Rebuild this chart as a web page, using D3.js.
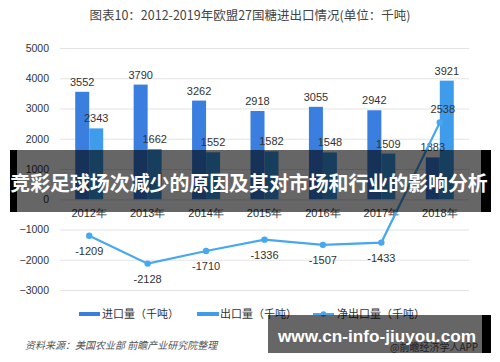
<!DOCTYPE html>
<html><head><meta charset="utf-8">
<script src="https://cdn.jsdelivr.net/npm/d3@7/dist/d3.min.js"></script>
<style>
body{margin:0;background:#fff;}
svg{display:block;font-family:"Noto Sans CJK SC","Noto Sans",sans-serif;}
</style></head>
<body>
<svg id="c" width="500" height="362"></svg>
<script>
const years = ["2012年","2013年","2014年","2015年","2016年","2017年","2018年"];
const imports = [3552,3790,3262,2918,3055,2942,1383];
const exports_ = [2343,1662,1552,1582,1548,1509,3921];
const netExports = [-1209,-2128,-1710,-1336,-1507,-1433,2538];
const yTicks = [5000,4000,3000,2000,1000,0,-1000,-2000,-3000];
const title = "图表10：2012-2019年欧盟27国糖进出口情况(单位：千吨)";
const legendLabels = ["进口量（千吨）","出口量（千吨）","净出口量（千吨）"];
const source = "资料来源：美国农业部 前瞻产业研究院整理";
const overlayText = "竞彩足球场次减少的原因及其对市场和行业的影响分析";
const siteText = "www.cn-info-jiuyou.com";
const appText = "@前瞻经济学人APP";

const cImp = "#3a7edf", cExp = "#3e9ceb", cNet = "#47a7f1";
const svg = d3.select("#c");
const x = d3.scaleBand().domain(years).range([60,469]).padding(0);
const y = d3.scaleLinear().domain([-3000,5000]).range([290,48]);
const bw = 14;

// title
svg.append("text").attr("x",250).attr("y",20).attr("text-anchor","middle")
  .attr("font-size",12.5).attr("fill","#444").text(title);

// grid
const yAxis = d3.axisLeft(y).tickValues(yTicks).tickSize(-409).tickFormat(d3.format("d")).tickPadding(10);
const gy = svg.append("g").attr("transform","translate(60,0)").call(yAxis);
gy.select(".domain").remove();
gy.selectAll(".tick line").attr("stroke","#e3e3e3");
gy.selectAll(".tick text").attr("font-size",10.5).attr("fill","#333").attr("x",-11).attr("font-family","'Liberation Sans',sans-serif");

// x axis labels
const xAxis = d3.axisBottom(x).tickSize(0).tickPadding(10);
const gx = svg.append("g").attr("transform",`translate(0,${y(0)})`).call(xAxis);
gx.select(".domain").remove();
gx.selectAll(".tick text").attr("font-size",11).attr("fill","#333");

// bars
const cx = d => x(d) + x.bandwidth()/2;
svg.append("g").selectAll("rect").data(years).join("rect")
  .attr("x",d=>cx(d)-bw).attr("width",bw)
  .attr("y",(d,i)=>y(imports[i])).attr("height",(d,i)=>y(0)-y(imports[i]))
  .attr("fill",cImp);
svg.append("g").selectAll("rect").data(years).join("rect")
  .attr("x",d=>cx(d)).attr("width",bw)
  .attr("y",(d,i)=>y(exports_[i])).attr("height",(d,i)=>y(0)-y(exports_[i]))
  .attr("fill",cExp);
// bar labels
const lblFont = "'Liberation Sans',sans-serif";
svg.append("g").selectAll("text").data(years).join("text")
  .attr("x",d=>cx(d)-bw/2).attr("y",(d,i)=>y(imports[i])-6)
  .attr("text-anchor","middle").attr("font-size",11).attr("fill","#333").attr("font-family",lblFont)
  .text((d,i)=>imports[i]);
svg.append("g").selectAll("text").data(years).join("text")
  .attr("x",d=>cx(d)+bw/2).attr("y",(d,i)=>y(exports_[i])-6)
  .attr("text-anchor","middle").attr("font-size",11).attr("fill","#333").attr("font-family",lblFont)
  .text((d,i)=>exports_[i]);

// line
const line = d3.line().x(d=>cx(d.k)).y(d=>y(d.v));
const pts = years.map((k,i)=>({k,v:netExports[i]}));
svg.append("path").datum(pts).attr("d",line).attr("fill","none").attr("stroke",cNet).attr("stroke-width",2.2);
svg.append("g").selectAll("circle").data(pts).join("circle")
  .attr("cx",d=>cx(d.k)).attr("cy",d=>y(d.v)).attr("r",3.2).attr("fill",cNet);
svg.append("g").selectAll("text").data(pts).join("text")
  .attr("x",d=>cx(d.k)+(d.v>0?3:0)).attr("y",d=>d.v>0?y(d.v)-9:y(d.v)+19)
  .attr("text-anchor","middle").attr("font-size",11).attr("fill","#333").attr("font-family",lblFont)
  .text(d=>d.v);

// legend
const lg = svg.append("g");
lg.append("rect").attr("x",79).attr("y",312).attr("width",21).attr("height",4).attr("fill",cImp);
lg.append("text").attr("x",102).attr("y",318).attr("font-size",11).attr("fill","#333").text(legendLabels[0]);
lg.append("rect").attr("x",197).attr("y",312).attr("width",22).attr("height",4).attr("fill",cExp);
lg.append("text").attr("x",220).attr("y",318).attr("font-size",11).attr("fill","#333").text(legendLabels[1]);
lg.append("line").attr("x1",313).attr("x2",334).attr("y1",314).attr("y2",314).attr("stroke",cNet).attr("stroke-width",2);
lg.append("circle").attr("cx",323.5).attr("cy",314).attr("r",2.8).attr("fill",cNet);
lg.append("text").attr("x",337).attr("y",318).attr("font-size",11).attr("fill","#333").text(legendLabels[2]);

// source
svg.append("text").attr("x",25).attr("y",349).attr("font-size",10).attr("fill","#555")
  .attr("font-style","italic").text(source);

// app text (under banner)
svg.append("text").attr("x",390).attr("y",351).attr("font-size",10).attr("fill","#555").text(appText);

// overlay banner
svg.append("rect").attr("x",10).attr("y",150).attr("width",7).attr("height",62).attr("fill","#000");
svg.append("rect").attr("x",17).attr("y",150).attr("width",464).attr("height",62).attr("fill","rgba(0,0,0,0.6)");
svg.append("rect").attr("x",481).attr("y",150).attr("width",10).attr("height",62).attr("fill","#000");
svg.append("text").attr("x",249).attr("y",191).attr("text-anchor","middle")
  .attr("font-size",19.9).attr("font-weight","bold").attr("fill","#fff").text(overlayText);

// bottom banner
svg.append("rect").attr("x",268).attr("y",315).attr("width",214).attr("height",38).attr("fill","rgba(0,0,0,0.6)");
svg.append("rect").attr("x",482).attr("y",315).attr("width",9).attr("height",38).attr("fill","#000");
svg.append("text").attr("x",278).attr("y",342).attr("font-size",17.2).attr("font-weight","bold")
  .attr("fill","#fff").attr("font-family","'Liberation Sans',sans-serif").text(siteText);
</script>
</body></html>
